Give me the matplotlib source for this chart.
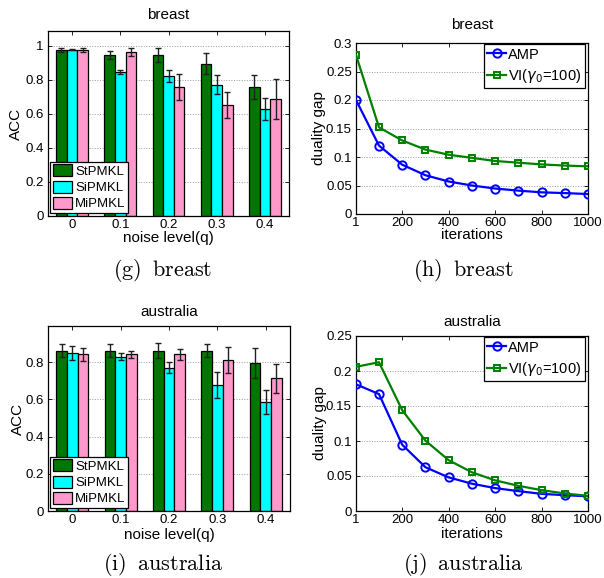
import numpy as np
import matplotlib.pyplot as plt

plt.rcParams['font.family'] = ['Liberation Sans', 'DejaVu Sans']

noise = ['0', '0.1', '0.2', '0.3', '0.4']
methods = ['StPMKL', 'SiPMKL', 'MiPMKL']
bar_colors = ['#007800', '#00ffff', '#ff99cc']

# breast: ACC mean and std per noise level
breast_st = [0.975, 0.945, 0.945, 0.895, 0.758]
breast_st_err = [0.012, 0.022, 0.041, 0.060, 0.069]
breast_si = [0.977, 0.846, 0.822, 0.770, 0.629]
breast_si_err = [0.004, 0.010, 0.034, 0.056, 0.064]
breast_mi = [0.975, 0.963, 0.758, 0.651, 0.686]
breast_mi_err = [0.010, 0.023, 0.076, 0.078, 0.119]

# australia
aus_st = [0.862, 0.862, 0.862, 0.862, 0.796]
aus_st_err = [0.036, 0.036, 0.039, 0.037, 0.081]
aus_si = [0.848, 0.830, 0.770, 0.675, 0.586]
aus_si_err = [0.039, 0.020, 0.030, 0.070, 0.063]
aus_mi = [0.841, 0.841, 0.841, 0.809, 0.712]
aus_mi_err = [0.036, 0.020, 0.030, 0.070, 0.080]

iters = [1, 100, 200, 300, 400, 500, 600, 700, 800, 900, 1000]
breast_amp = [0.200, 0.120, 0.0865, 0.068, 0.057, 0.050, 0.0447, 0.041, 0.038, 0.0367, 0.035]
breast_vi = [0.279, 0.152, 0.129, 0.113, 0.104, 0.0985, 0.093, 0.090, 0.087, 0.085, 0.0836]
aus_amp = [0.181, 0.167, 0.0947, 0.0625, 0.048, 0.039, 0.0327, 0.0284, 0.0245, 0.0226, 0.021]
aus_vi = [0.206, 0.2125, 0.144, 0.1005, 0.0726, 0.0553, 0.0438, 0.036, 0.0298, 0.025, 0.0216]

W, H = 604, 578
fig = plt.figure(figsize=(W / 100, H / 100), dpi=100)


def px_axes(x0, y0, x1, y1):
    return fig.add_axes([x0 / W, 1 - y1 / H, (x1 - x0) / W, (y1 - y0) / H])


def style(ax):
    ax.tick_params(direction='in', length=3, width=0.6, labelsize=9.5,
                   top=True, right=True, pad=3)
    ax.tick_params(axis='x', pad=2)
    for s in ax.spines.values():
        s.set_linewidth(0.9)
    ax.yaxis.grid(True, linestyle=':', color='#999999', linewidth=0.7)
    ax.set_axisbelow(True)


def set_labels(ax, xlab, ylab, box, xlab_y, ylab_x, title, title_y):
    x0, y0, x1, y1 = box
    ax.set_xlabel(xlab, fontsize=11, va='center')
    ax.set_ylabel(ylab, fontsize=11, va='center')
    ax.xaxis.set_label_coords(0.5, (y1 - xlab_y) / (y1 - y0))
    ax.yaxis.set_label_coords((ylab_x - x0) / (x1 - x0), 0.5)
    ax.set_title(title, fontsize=11, va='center', pad=0,
                 y=(y1 - title_y) / (y1 - y0))


def bar_panel(box, means, errs, title, top, yticks, ylabs, title_y, xlab_y, ylab_x):
    ax = px_axes(*box)
    style(ax)
    x = np.arange(len(noise))
    w = 0.22
    for i in range(3):
        ax.bar(x + (i - 1) * w, means[i], w, color=bar_colors[i], edgecolor='black',
               linewidth=0.9, label=methods[i], zorder=2)
        ax.errorbar(x + (i - 1) * w, means[i], yerr=errs[i], fmt='none',
                    ecolor='#202020', elinewidth=1.0, capsize=2, capthick=1.0, zorder=3)
    ax.set_xlim(-0.5, len(noise) - 0.5)
    ax.set_ylim(0, top)
    ax.set_xticks(x)
    ax.set_xticklabels(noise)
    ax.set_yticks(yticks)
    ax.set_yticklabels(ylabs)
    leg = ax.legend(loc='lower left', bbox_to_anchor=(0.008, 0.016), borderaxespad=0,
                    fontsize=9.5, fancybox=False, framealpha=1, edgecolor='black',
                    handlelength=1.5, handleheight=1.05, labelspacing=0.2,
                    borderpad=0.2, handletextpad=0.2)
    leg.get_frame().set_linewidth(0.9)
    leg.set_zorder(5)
    set_labels(ax, 'noise level(q)', 'ACC', box, xlab_y, ylab_x, title, title_y)
    return ax


def line_panel(box, amp, vi, title, top, yticks, ylabs, title_y, xlab_y, ylab_x):
    ax = px_axes(*box)
    style(ax)
    ax.plot(iters, amp, '-o', color='#0000ff', lw=1.6, ms=6, mew=1.4,
            mfc='none', label='AMP', zorder=3)
    ax.plot(iters, vi, '-s', color='#008000', lw=1.6, ms=5, mew=1.4,
            mfc='none', label=r'VI($\gamma_0$=100)', zorder=3)
    ax.set_xlim(1, 1000)
    ax.set_ylim(0, top)
    ax.set_xticks([1, 200, 400, 600, 800, 1000])
    ax.set_xticklabels(['1', '200', '400', '600', '800', '1000'])
    ax.set_yticks(yticks)
    ax.set_yticklabels(ylabs)
    leg = ax.legend(loc='upper right', bbox_to_anchor=(0.988, 0.995), borderaxespad=0,
                    fontsize=10.5, fancybox=False, framealpha=1, edgecolor='black',
                    handlelength=1.3, labelspacing=0.35, borderpad=0.25,
                    handletextpad=0.15)
    leg.get_frame().set_linewidth(0.9)
    set_labels(ax, 'iterations', 'duality gap', box, xlab_y, ylab_x, title, title_y)
    return ax


bar_panel((48, 31, 289, 216), [breast_st, breast_si, breast_mi],
          [breast_st_err, breast_si_err, breast_mi_err], 'breast', 1.086,
          [0, 0.2, 0.4, 0.6, 0.8, 1], ['0', '0.2', '0.4', '0.6', '0.8', '1'],
          15, 238, 16)
line_panel((356, 43, 588, 214), breast_amp, breast_vi, 'breast', 0.3,
           [0, 0.05, 0.1, 0.15, 0.2, 0.25, 0.3],
           ['0', '0.05', '0.1', '0.15', '0.2', '0.25', '0.3'], 25, 235, 319)
bar_panel((48, 326, 290, 511), [aus_st, aus_si, aus_mi],
          [aus_st_err, aus_si_err, aus_mi_err], 'australia', 0.994,
          [0, 0.2, 0.4, 0.6, 0.8], ['0', '0.2', '0.4', '0.6', '0.8'],
          312, 535, 18)
line_panel((356, 336, 588, 511), aus_amp, aus_vi, 'australia', 0.25,
           [0, 0.05, 0.1, 0.15, 0.2, 0.25],
           ['0', '0.05', '0.1', '0.15', '0.2', '0.25'], 322, 534, 320)

captions = [(163, 271, r'$\mathrm{(g)\;\;breast}$'),
            (463, 271, r'$\mathrm{(h)\;\;breast}$'),
            (163, 564, r'$\mathrm{(i)\;\;australia}$'),
            (463, 564, r'$\mathrm{(j)\;\;australia}$')]
for cx, cy, txt in captions:
    fig.text(cx / W, 1 - cy / H, txt, ha='center', va='center', fontsize=16,
             math_fontfamily='cm')

fig.savefig('out.png', dpi=100)
